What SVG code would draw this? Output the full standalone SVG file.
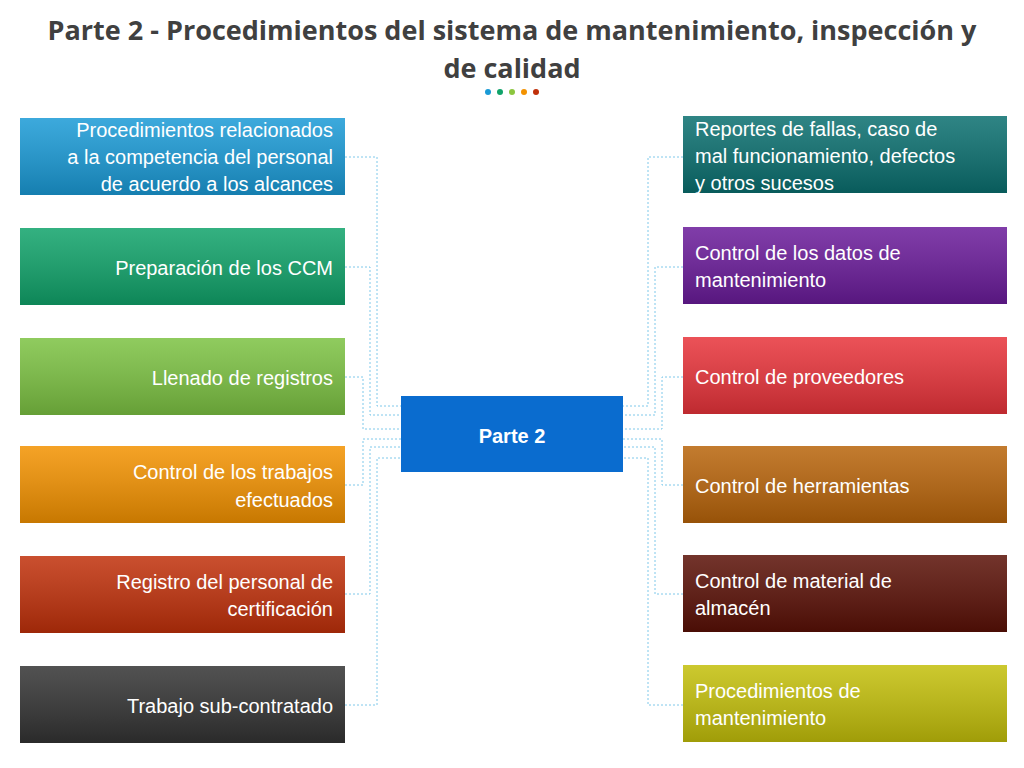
<svg xmlns="http://www.w3.org/2000/svg" width="1024" height="768" viewBox="0 0 1024 768">
<defs>
<linearGradient id="sh" x1="0" y1="0" x2="0" y2="1"><stop offset="0" stop-color="#fff" stop-opacity="0.15"/><stop offset="1" stop-color="#000" stop-opacity="0.18"/></linearGradient>
</defs>
<style>
.t{font-family:"Liberation Sans",Arial,sans-serif;font-size:20px;fill:#fff}
.l{text-anchor:end}
.c{fill:none;stroke:#7ec8ea;stroke-width:1;stroke-dasharray:2 2}
.h{font-family:"Open Sans","Liberation Sans",sans-serif;font-weight:bold;font-size:27px;fill:#404040;text-anchor:middle}
</style>
<rect width="1024" height="768" fill="#fff"/>
<text class="h" x="512" y="40">Parte 2 - Procedimientos del sistema de mantenimiento, inspección y</text>
<text class="h" x="512" y="78">de calidad</text>
<g id="dots"><circle cx="488" cy="92" r="3" fill="#1a9ad6"/><circle cx="500" cy="92" r="3" fill="#10a36a"/><circle cx="512" cy="92" r="3" fill="#8cc63f"/><circle cx="524" cy="92" r="3" fill="#f39200"/><circle cx="536" cy="92" r="3" fill="#c0300a"/></g>
<g id="connectors">
<path class="c" d="M345 157H377V406H401"/>
<path class="c" d="M345 267H370V415H401"/>
<path class="c" d="M345 377H363V429H401"/>
<path class="c" d="M345 485H363V439H401"/>
<path class="c" d="M345 594H370V447H401"/>
<path class="c" d="M345 705H377V458H401"/>
<path class="c" d="M683 157H648V406H623"/>
<path class="c" d="M683 267H655V415H623"/>
<path class="c" d="M683 377H662V429H623"/>
<path class="c" d="M683 485H662V439H623"/>
<path class="c" d="M683 594H655V447H623"/>
<path class="c" d="M683 705H648V458H623"/>
</g>
<g id="center"><rect x="401" y="396" width="222" height="76" fill="#0a6ccf"/><text class="t" x="512" y="443" text-anchor="middle" font-weight="bold" font-size="23">Parte 2</text></g>
<g id="l1"><rect x="20" y="118" width="325" height="77" fill="#1a9ad6"/><rect x="20" y="118" width="325" height="77" fill="url(#sh)"/><text class="t l" x="333" y="137">Procedimientos relacionados</text><text class="t l" x="333" y="164">a la competencia del personal</text><text class="t l" x="333" y="191">de acuerdo a los alcances</text></g>
<g id="l2"><rect x="20" y="228" width="325" height="77" fill="#10a36a"/><rect x="20" y="228" width="325" height="77" fill="url(#sh)"/><text class="t l" x="333" y="275">Preparación de los CCM</text></g>
<g id="l3"><rect x="20" y="338" width="325" height="77" fill="#7cc242"/><rect x="20" y="338" width="325" height="77" fill="url(#sh)"/><text class="t l" x="333" y="385">Llenado de registros</text></g>
<g id="l4"><rect x="20" y="446" width="325" height="77" fill="#f39200"/><rect x="20" y="446" width="325" height="77" fill="url(#sh)"/><text class="t l" x="333" y="479">Control de los trabajos</text><text class="t l" x="333" y="507">efectuados</text></g>
<g id="l5"><rect x="20" y="556" width="325" height="77" fill="#c0300a"/><rect x="20" y="556" width="325" height="77" fill="url(#sh)"/><text class="t l" x="333" y="589">Registro del personal de</text><text class="t l" x="333" y="616">certificación</text></g>
<g id="l6"><rect x="20" y="666" width="325" height="77" fill="#333"/><rect x="20" y="666" width="325" height="77" fill="url(#sh)"/><text class="t l" x="333" y="713">Trabajo sub-contratado</text></g>
<g id="r1"><rect x="683" y="116" width="324" height="77" fill="#0a6f6f"/><rect x="683" y="116" width="324" height="77" fill="url(#sh)"/><text class="t" x="695" y="136">Reportes de fallas, caso de</text><text class="t" x="695" y="163">mal funcionamiento, defectos</text><text class="t" x="695" y="190">y otros sucesos</text></g>
<g id="r2"><rect x="683" y="227" width="324" height="77" fill="#6a1b9a"/><rect x="683" y="227" width="324" height="77" fill="url(#sh)"/><text class="t" x="695" y="260">Control de los datos de</text><text class="t" x="695" y="287">mantenimiento</text></g>
<g id="r3"><rect x="683" y="337" width="324" height="77" fill="#e8333a"/><rect x="683" y="337" width="324" height="77" fill="url(#sh)"/><text class="t" x="695" y="384">Control de proveedores</text></g>
<g id="r4"><rect x="683" y="446" width="324" height="77" fill="#b8640a"/><rect x="683" y="446" width="324" height="77" fill="url(#sh)"/><text class="t" x="695" y="493">Control de herramientas</text></g>
<g id="r5"><rect x="683" y="555" width="324" height="77" fill="#5a1006"/><rect x="683" y="555" width="324" height="77" fill="url(#sh)"/><text class="t" x="695" y="588">Control de material de</text><text class="t" x="695" y="615">almacén</text></g>
<g id="r6"><rect x="683" y="665" width="324" height="77" fill="#c3bf0a"/><rect x="683" y="665" width="324" height="77" fill="url(#sh)"/><text class="t" x="695" y="698">Procedimientos de</text><text class="t" x="695" y="725">mantenimiento</text></g>
</svg>
